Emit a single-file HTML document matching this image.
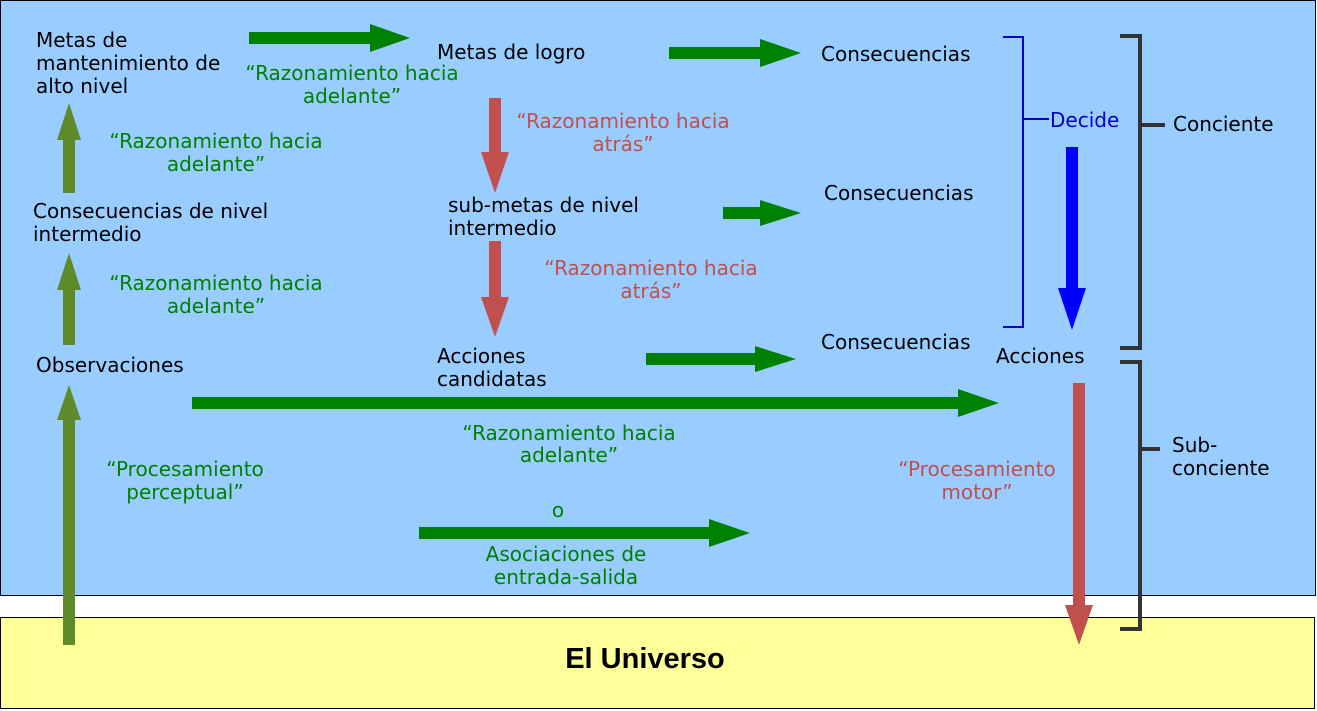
<!DOCTYPE html>
<html><head><meta charset="utf-8"><style>body{margin:0;background:#fff}svg{display:block}text{font-family:"DejaVu Sans","Liberation Sans",sans-serif;font-size:20px}</style></head><body>
<svg width="1317" height="711" viewBox="0 0 1317 711">
<rect x="0.5" y="0.5" width="1315" height="595" fill="#99ccff" stroke="#000"/>
<rect x="0.5" y="617.5" width="1314" height="91" fill="#ffff99" stroke="#000"/>
<text x="645" y="668" text-anchor="middle" style="font-family:'Liberation Sans',sans-serif;font-size:29px;font-weight:bold">El Universo</text>
<g fill="#008000">
<polygon points="249,32 370,32 370,24 410,38 370,52 370,44 249,44"/>
<polygon points="669,47 760,47 760,39 801,53 760,67 760,59 669,59"/>
<polygon points="723,207 760,207 760,200 801,213 760,226 760,219 723,219"/>
<polygon points="646,353 755,353 755,346 796,359 755,372 755,365 646,365"/>
<polygon points="192,397 958,397 958,389 999,403 958,417 958,409 192,409"/>
<polygon points="419,527 709,527 709,519 750,533 709,547 709,539 419,539"/>
</g>
<g fill="#5e8a2a">
<polygon points="63,193 63,140 57,140 69,103 81,140 75,140 75,193"/>
<polygon points="63,345 63,290 57,290 69,253 81,290 75,290 75,345"/>
<polygon points="63,645 63,420 57,420 69,385 81,420 75,420 75,645"/>
</g>
<g fill="#c0504d">
<polygon points="489,98 501,98 501,152 509,152 495,193 481,152 489,152"/>
<polygon points="489,241 501,241 501,297 509,297 495,337 481,297 489,297"/>
<polygon points="1073,383 1085,383 1085,605 1093,605 1079,645 1065,605 1073,605"/>
</g>
<polygon points="1066,147 1078,147 1078,288 1086,288 1072,330 1058,288 1066,288" fill="#0000ff"/>
<g stroke="#0000cc" stroke-width="2" fill="none">
<path d="M1003,37 H1023 V327 H1003"/><path d="M1023,119 H1049"/></g>
<g stroke="#333" stroke-width="4" fill="none">
<path d="M1120,36 H1140 V348 H1120"/><path d="M1140,125 H1165"/>
<path d="M1120,362 H1140 V629 H1120"/><path d="M1140,449 H1160"/></g>
<g fill="#000">
<text x="36" y="47">Metas de</text><text x="36" y="70">mantenimiento de</text><text x="36" y="93">alto nivel</text>
<text x="437" y="59">Metas de logro</text>
<text x="821" y="61">Consecuencias</text>
<text x="824" y="200">Consecuencias</text>
<text x="821" y="349">Consecuencias</text>
<text x="33" y="218">Consecuencias de nivel</text><text x="33" y="241">intermedio</text>
<text x="448" y="212">sub-metas de nivel</text><text x="448" y="235">intermedio</text>
<text x="36" y="372">Observaciones</text>
<text x="437" y="363">Acciones</text><text x="437" y="386">candidatas</text>
<text x="996" y="363">Acciones</text>
<text x="1173" y="131">Conciente</text>
<text x="1172" y="452">Sub-</text><text x="1172" y="475">conciente</text>
</g>
<text x="1050" y="127" fill="#0000cc">Decide</text>
<g fill="#008000" text-anchor="middle">
<text x="352" y="80">“Razonamiento hacia</text><text x="352" y="103">adelante”</text>
<text x="216" y="148">“Razonamiento hacia</text><text x="216" y="171">adelante”</text>
<text x="216" y="290">“Razonamiento hacia</text><text x="216" y="313">adelante”</text>
<text x="569" y="440">“Razonamiento hacia</text><text x="569" y="462">adelante”</text>
<text x="185" y="476">“Procesamiento</text><text x="185" y="499">perceptual”</text>
<text x="558" y="517">o</text>
<text x="566" y="561">Asociaciones de</text><text x="566" y="584">entrada-salida</text>
</g>
<g fill="#c0504d" text-anchor="middle">
<text x="623" y="128">“Razonamiento hacia</text><text x="623" y="151">atrás”</text>
<text x="651" y="275">“Razonamiento hacia</text><text x="651" y="298">atrás”</text>
<text x="977" y="476">“Procesamiento</text><text x="977" y="499">motor”</text>
</g>
</svg>
</body></html>
